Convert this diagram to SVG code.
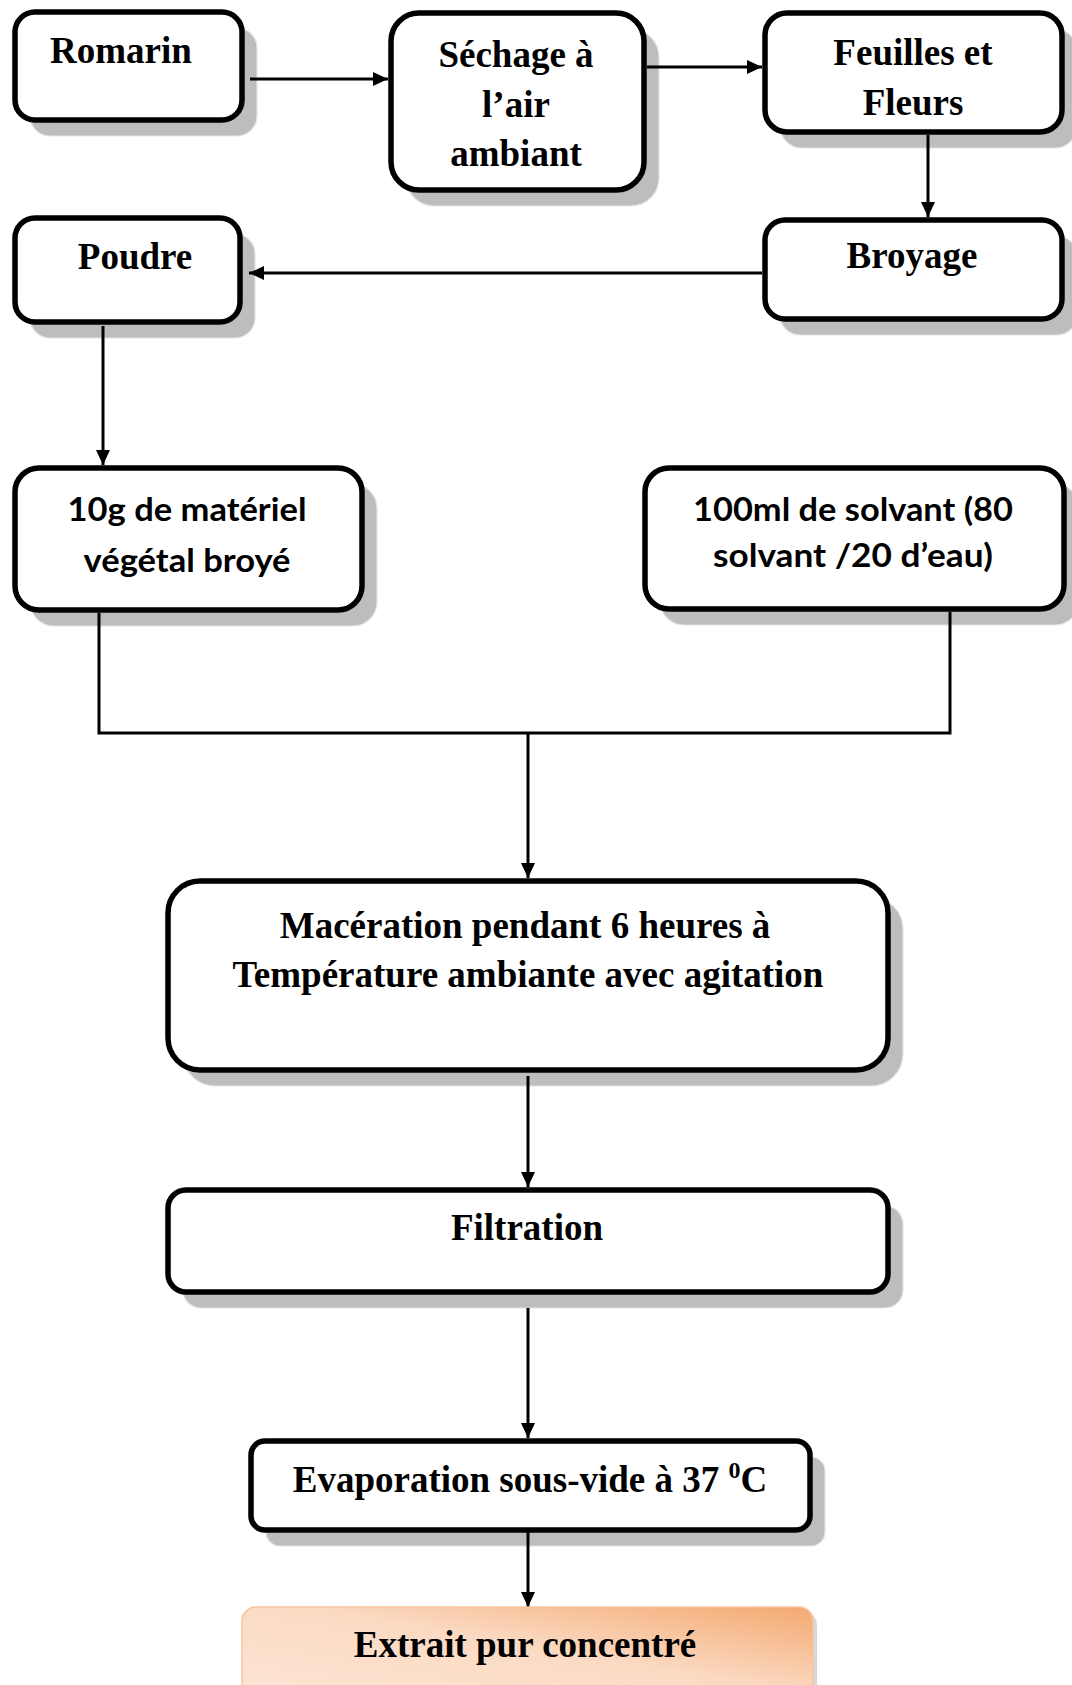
<svg xmlns="http://www.w3.org/2000/svg" width="1072" height="1685" viewBox="0 0 1072 1685">
  <style>
    .box { fill: #ffffff; stroke: #000000; stroke-width: 5.5; }
    .shadow { fill: #bdbdbd; stroke: #e4e4e4; stroke-width: 1.2; }
    .serif { font-family: "Liberation Serif", "Times New Roman", serif; font-weight: bold; font-size: 37px; fill: #000000; text-anchor: middle; }
    .sans { font-family: Lato, "Open Sans", "Liberation Sans", sans-serif; font-weight: bold; font-size: 32px; fill: #000000; text-anchor: middle; }
    .link { fill: none; stroke: #000000; stroke-width: 3; }
  </style>
  <defs>
    <marker id="arrow" markerUnits="userSpaceOnUse" markerWidth="16" markerHeight="14" refX="15" refY="7" orient="auto">
      <path d="M0,0 L15,7 L0,14 Z" fill="#000000"/>
    </marker>
    <linearGradient id="peach" x1="1" y1="0" x2="0" y2="1">
      <stop offset="0" stop-color="#f3a970"/>
      <stop offset="0.45" stop-color="#fbdac3"/>
      <stop offset="1" stop-color="#fde6d6"/>
    </linearGradient>
  </defs>

  <rect width="1072" height="1685" fill="#ffffff"/>

  <!-- node shadows -->
  <g id="shadows">
    <rect class="shadow" x="30" y="28" width="227" height="108" rx="20"/>
    <rect class="shadow" x="406" y="29" width="253" height="177" rx="28"/>
    <rect class="shadow" x="780" y="29" width="297" height="119" rx="22"/>
    <rect class="shadow" x="30" y="234" width="225" height="104" rx="20"/>
    <rect class="shadow" x="780" y="236" width="297" height="99" rx="20"/>
    <rect class="shadow" x="30" y="484" width="347" height="142" rx="24"/>
    <rect class="shadow" x="660" y="484" width="419" height="141" rx="24"/>
    <rect class="shadow" x="183" y="897" width="720" height="189" rx="32"/>
    <rect class="shadow" x="183" y="1206" width="720" height="102" rx="18"/>
    <rect class="shadow" x="266" y="1457" width="559" height="89" rx="14"/>
    <rect x="246" y="1611" width="571" height="100" rx="14" fill="#d8d8d8"/>
  </g>

  <!-- connectors -->
  <g id="connectors">
    <line class="link" x1="250" y1="79" x2="388" y2="79" marker-end="url(#arrow)"/>
    <line class="link" x1="647" y1="67" x2="762" y2="67" marker-end="url(#arrow)"/>
    <line class="link" x1="928" y1="135" x2="928" y2="217" marker-end="url(#arrow)"/>
    <line class="link" x1="762" y1="273" x2="249" y2="273" marker-end="url(#arrow)"/>
    <line class="link" x1="103" y1="326" x2="103" y2="465" marker-end="url(#arrow)"/>
    <polyline class="link" points="99,613 99,733 950,733 950,612"/>
    <line class="link" x1="528" y1="733" x2="528" y2="878" marker-end="url(#arrow)"/>
    <line class="link" x1="528" y1="1076" x2="528" y2="1187" marker-end="url(#arrow)"/>
    <line class="link" x1="528" y1="1308" x2="528" y2="1438" marker-end="url(#arrow)"/>
    <line class="link" x1="528" y1="1530" x2="528" y2="1607" marker-end="url(#arrow)"/>
  </g>

  <!-- nodes -->
  <g id="romarin">
    <rect class="box" x="15" y="12" width="227" height="108" rx="20"/>
    <text class="serif" x="121" y="63">Romarin</text>
  </g>
  <g id="sechage">
    <rect class="box" x="391" y="13" width="253" height="177" rx="28"/>
    <text class="serif" x="516" y="67">Séchage à</text>
    <text class="serif" x="516" y="117">l’air</text>
    <text class="serif" x="516" y="166">ambiant</text>
  </g>
  <g id="feuilles">
    <rect class="box" x="765" y="13" width="297" height="119" rx="22"/>
    <text class="serif" x="913" y="65">Feuilles et</text>
    <text class="serif" x="913" y="115">Fleurs</text>
  </g>
  <g id="poudre">
    <rect class="box" x="15" y="218" width="225" height="104" rx="20"/>
    <text class="serif" x="135" y="269">Poudre</text>
  </g>
  <g id="broyage">
    <rect class="box" x="765" y="220" width="297" height="99" rx="20"/>
    <text class="serif" x="912" y="268">Broyage</text>
  </g>
  <g id="materiel">
    <rect class="box" x="15" y="468" width="347" height="142" rx="24"/>
    <text class="sans" x="187" y="521" textLength="239" lengthAdjust="spacingAndGlyphs">10g de matériel</text>
    <text class="sans" x="187" y="572" textLength="207" lengthAdjust="spacingAndGlyphs">végétal broyé</text>
  </g>
  <g id="solvant">
    <rect class="box" x="645" y="468" width="419" height="141" rx="24"/>
    <text class="sans" x="853" y="521" textLength="320" lengthAdjust="spacingAndGlyphs">100ml de solvant (80</text>
    <text class="sans" x="853" y="567" textLength="280" lengthAdjust="spacingAndGlyphs">solvant /20 d’eau)</text>
  </g>
  <g id="maceration">
    <rect class="box" x="168" y="881" width="720" height="189" rx="32"/>
    <text class="serif" x="525" y="938">Macération pendant 6 heures à</text>
    <text class="serif" x="528" y="987">Température ambiante avec agitation</text>
  </g>
  <g id="filtration">
    <rect class="box" x="168" y="1190" width="720" height="102" rx="18"/>
    <text class="serif" x="527" y="1240">Filtration</text>
  </g>
  <g id="evaporation">
    <rect class="box" x="251" y="1441" width="559" height="89" rx="14"/>
    <text class="serif" x="530" y="1492">Evaporation sous-vide à 37 <tspan font-size="24" dy="-14">0</tspan><tspan dy="14">C</tspan></text>
  </g>
  <g id="extrait">
    <rect x="242" y="1607" width="571" height="100" rx="14" fill="url(#peach)" stroke="#f6c4a0" stroke-width="1.5"/>
    <text class="serif" x="525" y="1657">Extrait pur concentré</text>
  </g>
</svg>
